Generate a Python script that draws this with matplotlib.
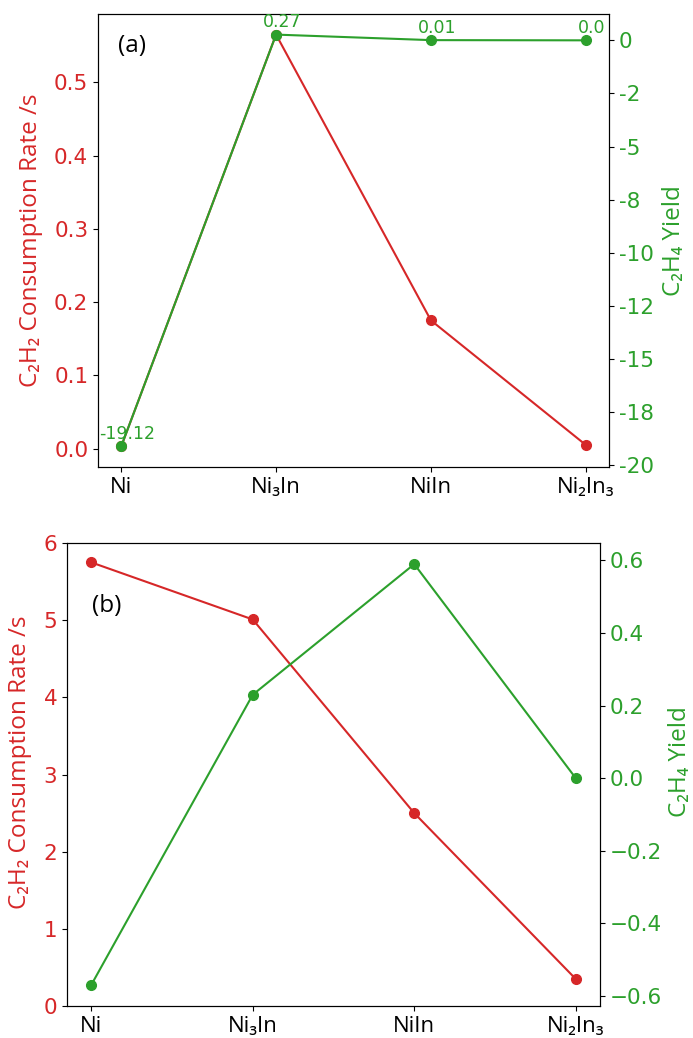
import matplotlib
matplotlib.use("Agg")
import matplotlib.pyplot as plt
from matplotlib.ticker import MultipleLocator, FuncFormatter

RED = "#d62728"
GREEN = "#2ca02c"
LABEL_FONT = ["Open Sans", "DejaVu Sans"]

catalysts = ["Ni", "Ni₃In", "NiIn", "Ni₂In₃"]

# panel (a)
rate_a = [0.003, 0.565, 0.175, 0.005]
yield_a = [-19.12, 0.27, 0.01, 0.0]
yield_a_labels = ["-19.12", "0.27", "0.01", "0.0"]

# panel (b)
rate_b = [5.75, 5.01, 2.50, 0.35]
yield_b = [-0.57, 0.23, 0.59, 0.0]

fig = plt.figure(figsize=(6.93, 10.38), dpi=100)


def style(ax, ax2, tick_fs):
    ax.tick_params(axis="y", colors=RED, labelsize=tick_fs)
    ax.tick_params(axis="y", color="black")
    ax2.tick_params(axis="y", colors=GREEN, labelsize=tick_fs)
    ax2.tick_params(axis="y", color="black")
    ax.tick_params(axis="x", labelsize=tick_fs)
    ax.set_xticks(range(len(catalysts)))
    ax.set_xticklabels(catalysts, family=LABEL_FONT, fontsize=16)
    ax.set_ylabel("C₂H₂ Consumption Rate /s", color=RED, family=LABEL_FONT, fontsize=17.5)
    ax2.set_ylabel("C₂H₄ Yield", color=GREEN, family=LABEL_FONT, fontsize=17.5)


# ---- (a)
ax = fig.add_axes([0.1414, 0.5501, 0.7374, 0.4364])
ax2 = ax.twinx()
x = list(range(len(catalysts)))
ax.plot(x, rate_a, color=RED, marker="o", ms=7, lw=1.5)
ax2.plot(x, yield_a, color=GREEN, marker="o", ms=7, lw=1.5)
for xi, yi, s in zip(x, yield_a, yield_a_labels):
    ax2.annotate(s, (xi, yi), xytext=(4.5, 2.5), textcoords="offset points",
                 ha="center", va="bottom", color=GREEN, fontsize=12.5)
ax2.yaxis.set_major_locator(MultipleLocator(2.5))
ax2.yaxis.set_major_formatter(FuncFormatter(lambda v, _: "0" if abs(v) < 1e-9 else f"{v:.0f}"))
style(ax, ax2, 15.5)
ax.yaxis.set_label_coords(-0.108, 0.5)
ax2.yaxis.set_label_coords(1.104, 0.5)
ax.text(0.04, 0.93, "(a)", transform=ax.transAxes, family=LABEL_FONT,
        fontsize=17.5, va="center", ha="left")

# ---- (b)
bx = fig.add_axes([0.0967, 0.0308, 0.7691, 0.4460])
bx2 = bx.twinx()
bx.plot(x, rate_b, color=RED, marker="o", ms=7, lw=1.5)
bx2.plot(x, yield_b, color=GREEN, marker="o", ms=7, lw=1.5)
bx.set_ylim(0, 6)
style(bx, bx2, 15.5)
bx.yaxis.set_label_coords(-0.066, 0.527)
bx2.yaxis.set_label_coords(1.128, 0.527)
bx.text(0.047, 0.864, "(b)", transform=bx.transAxes, family=LABEL_FONT,
        fontsize=17.5, va="center", ha="left")

fig.savefig("out.png", dpi=100)
